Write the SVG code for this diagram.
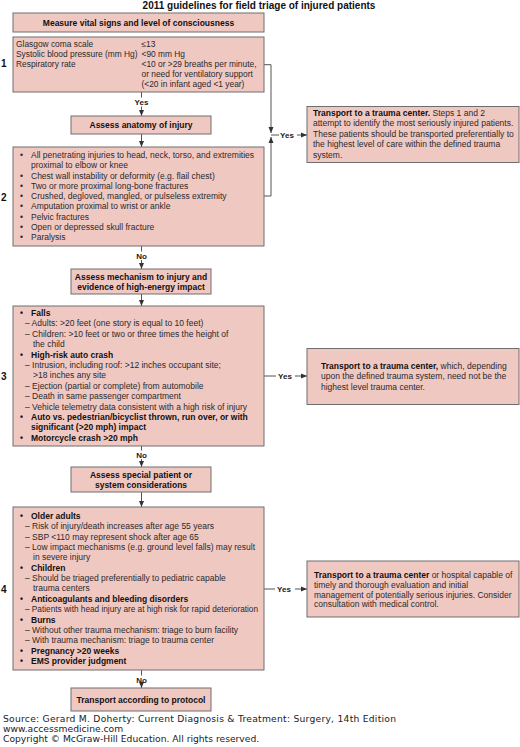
<svg xmlns="http://www.w3.org/2000/svg" width="520" height="747" viewBox="0 0 520 747">
<style>
.bx{fill:#f0c8c2;stroke:#6e6e6e;stroke-width:1}
text{font-family:"Liberation Sans",Arial,sans-serif;font-size:8.5px;fill:#2a2a2a}
.s1{font-size:8.4px}
.b{font-weight:bold;fill:#111}
.h{font-weight:bold;fill:#111;text-anchor:middle}
.num{font-weight:bold;font-size:10px;fill:#111}
.lbl{font-weight:bold;fill:#222;text-anchor:middle;font-size:8px}
.ln{fill:none;stroke:#555;stroke-width:1}
.ft{font-family:"DejaVu Sans",Verdana,sans-serif;font-size:9.2px;fill:#222}
</style>
<defs>
<marker id="ah" viewBox="0 0 6 6" refX="6" refY="3" markerWidth="6" markerHeight="6" markerUnits="userSpaceOnUse" orient="auto">
<path d="M0,0.5 L6,3 L0,5.5 z" fill="#333"/>
</marker>
</defs>
<rect width="520" height="747" fill="#fff"/>
<text x="259" y="8.5" class="h" style="font-size:10px">2011 guidelines for field triage of injured patients</text>

<g id="connectors">
<path class="ln" d="M141.5,92 V97.5"/>
<path class="ln" d="M141.5,106.5 V116" marker-end="url(#ah)"/>
<text x="141.5" y="105" class="lbl">Yes</text>
<path class="ln" d="M141.5,134 V147" marker-end="url(#ah)"/>
<path class="ln" d="M141.5,246 V251.5"/>
<path class="ln" d="M141.5,260 V269" marker-end="url(#ah)"/>
<text x="141.5" y="259" class="lbl">No</text>
<path class="ln" d="M141.5,294 V306" marker-end="url(#ah)"/>
<path class="ln" d="M141.5,446 V450.5"/>
<path class="ln" d="M141.5,459 V467" marker-end="url(#ah)"/>
<text x="141.5" y="458" class="lbl">No</text>
<path class="ln" d="M141.5,492 V507" marker-end="url(#ah)"/>
<path class="ln" d="M141.5,670 V675.5"/>
<path class="ln" d="M141.5,684 V688" marker-end="url(#ah)"/>
<text x="141.5" y="683" class="lbl">No</text>

<path class="ln" d="M264,64.7 H271 V133" marker-end="url(#ah)"/>
<path class="ln" d="M264,196 H271 V137" marker-end="url(#ah)"/>
<path class="ln" d="M271,135 H279"/>
<text x="287" y="138" class="lbl">Yes</text>
<path class="ln" d="M297,135 H307" marker-end="url(#ah)"/>

<path class="ln" d="M264,376 H276"/>
<text x="285" y="379" class="lbl">Yes</text>
<path class="ln" d="M295,376 H307" marker-end="url(#ah)"/>

<path class="ln" d="M264,589 H275"/>
<text x="284" y="592" class="lbl">Yes</text>
<path class="ln" d="M295,589 H307" marker-end="url(#ah)"/>
</g>

<g id="measure">
<rect class="bx" x="13" y="13" width="251" height="19"/>
<text x="138.5" y="25.5" class="h">Measure vital signs and level of consciousness</text>
</g>

<g id="step1">
<text x="1" y="67" class="num">1</text>
<rect class="bx" x="13" y="37" width="251" height="55"/>
<text x="16" y="46.5" class="s1">Glasgow coma scale</text>
<text x="16" y="56.7" class="s1">Systolic blood pressure (mm Hg)</text>
<text x="16" y="66.9" class="s1">Respiratory rate</text>
<text x="141.5" y="46.5" class="s1">≤13</text>
<text x="141.5" y="56.7" class="s1">&lt;90 mm Hg</text>
<text x="141.5" y="66.9" class="s1">&lt;10 or &gt;29 breaths per minute,</text>
<text x="141.5" y="77.1" class="s1">or need for ventilatory support</text>
<text x="141.5" y="87.3" class="s1">(&lt;20 in infant aged &lt;1 year)</text>
</g>

<g id="anatomy">
<rect class="bx" x="71" y="116" width="140" height="18"/>
<text x="141" y="128" class="h">Assess anatomy of injury</text>
</g>

<g id="step2">
<text x="1" y="200.5" class="num">2</text>
<rect class="bx" x="13" y="147" width="251" height="99"/>
<text x="20" y="158">•</text><text x="31" y="158">All penetrating injuries to head, neck, torso, and extremities</text>
<text x="31" y="168.25">proximal to elbow or knee</text>
<text x="20" y="178.5">•</text><text x="31" y="178.5">Chest wall instability or deformity (e.g. flail chest)</text>
<text x="20" y="188.75">•</text><text x="31" y="188.75">Two or more proximal long-bone fractures</text>
<text x="20" y="199">•</text><text x="31" y="199">Crushed, degloved, mangled, or pulseless extremity</text>
<text x="20" y="209.25">•</text><text x="31" y="209.25">Amputation proximal to wrist or ankle</text>
<text x="20" y="219.5">•</text><text x="31" y="219.5">Pelvic fractures</text>
<text x="20" y="229.75">•</text><text x="31" y="229.75">Open or depressed skull fracture</text>
<text x="20" y="240">•</text><text x="31" y="240">Paralysis</text>
</g>

<g id="mechanism">
<rect class="bx" x="71" y="269" width="140" height="25"/>
<text x="141" y="280" class="h">Assess mechanism to injury and</text>
<text x="141" y="290" class="h">evidence of high-energy impact</text>
</g>

<g id="step3">
<text x="1" y="379.5" class="num">3</text>
<rect class="bx" x="13" y="306" width="251" height="140"/>
<text x="20" y="316" class="b">•</text><text x="31" y="316" class="b">Falls</text>
<text x="25" y="326.4">– Adults: &gt;20 feet (one story is equal to 10 feet)</text>
<text x="25" y="336.8">– Children: &gt;10 feet or two or three times the height of</text>
<text x="33" y="347.2">the child</text>
<text x="20" y="357.6" class="b">•</text><text x="31" y="357.6" class="b">High-risk auto crash</text>
<text x="25" y="368">– Intrusion, including roof: &gt;12 inches occupant site;</text>
<text x="33" y="378.4">&gt;18 inches any site</text>
<text x="25" y="388.8">– Ejection (partial or complete) from automobile</text>
<text x="25" y="399.2">– Death in same passenger compartment</text>
<text x="25" y="409.6">– Vehicle telemetry data consistent with a high risk of injury</text>
<text x="20" y="420" class="b">•</text><text x="31" y="420" class="b">Auto vs. pedestrian/bicyclist thrown, run over, or with</text>
<text x="31" y="430.4" class="b">significant (&gt;20 mph) impact</text>
<text x="20" y="440.8" class="b">•</text><text x="31" y="440.8" class="b">Motorcycle crash &gt;20 mph</text>
</g>

<g id="special">
<rect class="bx" x="71" y="467" width="140" height="25"/>
<text x="141" y="478" class="h">Assess special patient or</text>
<text x="141" y="488" class="h">system considerations</text>
</g>

<g id="step4">
<text x="1" y="592.5" class="num">4</text>
<rect class="bx" x="13" y="507" width="251" height="163"/>
<text x="20" y="519" class="b">•</text><text x="31" y="519" class="b">Older adults</text>
<text x="25" y="529.35">– Risk of injury/death increases after age 55 years</text>
<text x="25" y="539.7">– SBP &lt;110 may represent shock after age 65</text>
<text x="25" y="550.05">– Low impact mechanisms (e.g. ground level falls) may result</text>
<text x="33" y="560.4">in severe injury</text>
<text x="20" y="570.75" class="b">•</text><text x="31" y="570.75" class="b">Children</text>
<text x="25" y="581.1">– Should be triaged preferentially to pediatric capable</text>
<text x="33" y="591.45">trauma centers</text>
<text x="20" y="601.8" class="b">•</text><text x="31" y="601.8" class="b">Anticoagulants and bleeding disorders</text>
<text x="25" y="612.15" textLength="233" lengthAdjust="spacingAndGlyphs">– Patients with head injury are at high risk for rapid deterioration</text>
<text x="20" y="622.5" class="b">•</text><text x="31" y="622.5" class="b">Burns</text>
<text x="25" y="632.85">– Without other trauma mechanism: triage to burn facility</text>
<text x="25" y="643.2">– With trauma mechanism: triage to trauma center</text>
<text x="20" y="653.55" class="b">•</text><text x="31" y="653.55" class="b">Pregnancy &gt;20 weeks</text>
<text x="20" y="663.9" class="b">•</text><text x="31" y="663.9" class="b">EMS provider judgment</text>
</g>

<g id="protocol">
<rect class="bx" x="71" y="688" width="140" height="23"/>
<text x="141" y="702.5" class="h">Transport according to protocol</text>
</g>

<g id="result1">
<rect class="bx" x="307" y="106.5" width="212" height="56"/>
<text x="313" y="116"><tspan class="b">Transport to a trauma center.</tspan> Steps 1 and 2</text>
<text x="313" y="126.4">attempt to identify the most seriously injured patients.</text>
<text x="313" y="136.8">These patients should be transported preferentially to</text>
<text x="313" y="147.2">the highest level of care within the defined trauma</text>
<text x="313" y="157.6">system.</text>
</g>

<g id="result2">
<rect class="bx" x="307" y="348.5" width="212" height="56"/>
<text x="321" y="369"><tspan class="b">Transport to a trauma center,</tspan> which, depending</text>
<text x="321" y="379.4">upon the defined trauma system, need not be the</text>
<text x="321" y="389.8">highest level trauma center.</text>
</g>

<g id="result3">
<rect class="bx" x="307" y="561" width="212" height="56"/>
<text x="314" y="578"><tspan class="b">Transport to a trauma center</tspan> or hospital capable of</text>
<text x="314" y="587.8">timely and thorough evaluation and initial</text>
<text x="314" y="597.6">management of potentially serious injuries. Consider</text>
<text x="314" y="607.4">consultation with medical control.</text>
</g>

<g id="footer">
<text x="3" y="722" class="ft" textLength="393" lengthAdjust="spacing">Source: Gerard M. Doherty: Current Diagnosis &amp; Treatment: Surgery, 14th Edition</text>
<text x="3" y="732" class="ft">www.accessmedicine.com</text>
<text x="3" y="741.5" class="ft">Copyright © McGraw-Hill Education. All rights reserved.</text>
</g>
</svg>
